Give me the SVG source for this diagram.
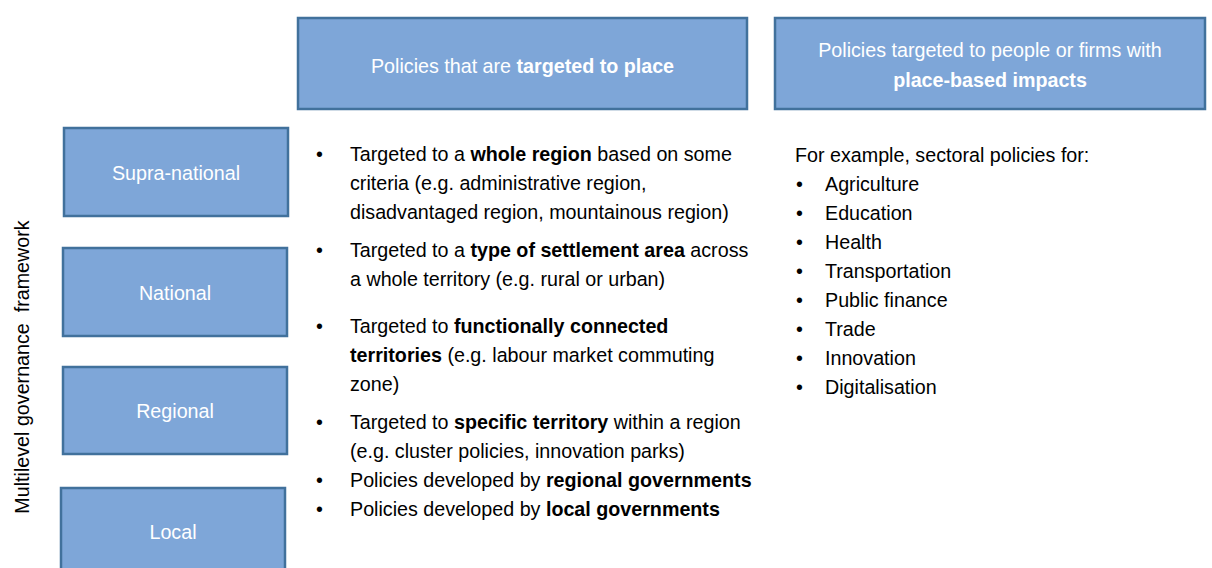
<svg xmlns="http://www.w3.org/2000/svg" width="1212" height="568" viewBox="0 0 1212 568">
<style>
.box{fill:#7EA6D8;stroke:#41719C;stroke-width:2.5}
.w{fill:#FFFFFF;font-family:"Liberation Sans",Arial,sans-serif;font-size:19.7px}
.t{fill:#000000;font-family:"Liberation Sans",Arial,sans-serif;font-size:19.7px}
.b{font-weight:bold}
</style>
<rect width="1212" height="568" fill="#FFFFFF"/>
<g id="head1"><rect class="box" x="298" y="18" width="449" height="91"/>
<text class="w" x="522.5" y="73" text-anchor="middle">Policies that are <tspan class="b">targeted to place</tspan></text></g>
<g id="head2"><rect class="box" x="775" y="18" width="430" height="91"/>
<text class="w" x="990" y="57" text-anchor="middle">Policies targeted to people or firms with</text>
<text class="w b" x="990" y="87" text-anchor="middle">place-based impacts</text></g>
<g id="supra"><rect class="box" x="64" y="128" width="224" height="88"/><text class="w" x="176" y="180" text-anchor="middle">Supra-national</text></g>
<g id="national"><rect class="box" x="63" y="248" width="224" height="88"/><text class="w" x="175" y="300" text-anchor="middle">National</text></g>
<g id="regional"><rect class="box" x="63" y="367" width="224" height="87"/><text class="w" x="175" y="418" text-anchor="middle">Regional</text></g>
<g id="local"><rect class="box" x="61" y="488" width="224" height="90"/><text class="w" x="173" y="539" text-anchor="middle">Local</text></g>
<g id="axis"><text class="t" transform="translate(29,367) rotate(-90)" text-anchor="middle" xml:space="preserve">Multilevel governance  framework</text></g>
<g id="col1">
<text class="t" x="316" y="161">•</text><text class="t" x="350" y="161">Targeted to a <tspan class="b">whole region</tspan> based on some</text>
<text class="t" x="350" y="190">criteria (e.g. administrative region,</text>
<text class="t" x="350" y="219">disadvantaged region, mountainous region)</text>
<text class="t" x="316" y="257">•</text><text class="t" x="350" y="257">Targeted to a <tspan class="b">type of settlement area</tspan> across</text>
<text class="t" x="350" y="286">a whole territory (e.g. rural or urban)</text>
<text class="t" x="316" y="333">•</text><text class="t" x="350" y="333">Targeted to <tspan class="b">functionally connected</tspan></text>
<text class="t" x="350" y="362"><tspan class="b">territories</tspan> (e.g. labour market commuting</text>
<text class="t" x="350" y="391">zone)</text>
<text class="t" x="316" y="429">•</text><text class="t" x="350" y="429">Targeted to <tspan class="b">specific territory</tspan> within a region</text>
<text class="t" x="350" y="458">(e.g. cluster policies, innovation parks)</text>
<text class="t" x="316" y="487">•</text><text class="t" x="350" y="487">Policies developed by <tspan class="b">regional governments</tspan></text>
<text class="t" x="316" y="516">•</text><text class="t" x="350" y="516">Policies developed by <tspan class="b">local governments</tspan></text>
</g>
<g id="col2">
<text class="t" x="795" y="162">For example, sectoral policies for:</text>
<text class="t" x="796" y="191">•</text><text class="t" x="825" y="191">Agriculture</text>
<text class="t" x="796" y="220">•</text><text class="t" x="825" y="220">Education</text>
<text class="t" x="796" y="249">•</text><text class="t" x="825" y="249">Health</text>
<text class="t" x="796" y="278">•</text><text class="t" x="825" y="278">Transportation</text>
<text class="t" x="796" y="307">•</text><text class="t" x="825" y="307">Public finance</text>
<text class="t" x="796" y="336">•</text><text class="t" x="825" y="336">Trade</text>
<text class="t" x="796" y="365">•</text><text class="t" x="825" y="365">Innovation</text>
<text class="t" x="796" y="394">•</text><text class="t" x="825" y="394">Digitalisation</text>
</g>
<g id="connectors"></g>
</svg>
